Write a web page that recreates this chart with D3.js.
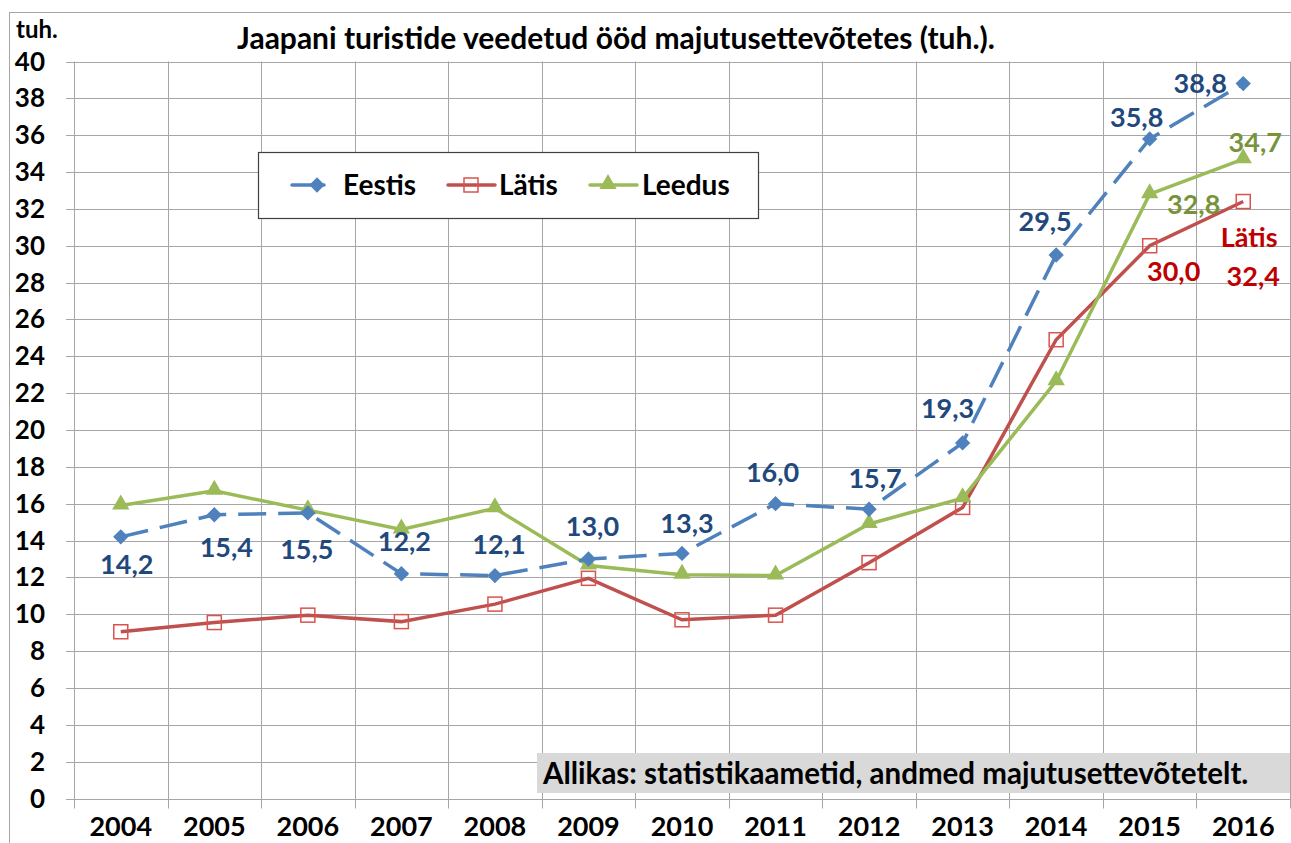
<!DOCTYPE html>
<html>
<head>
<meta charset="utf-8">
<script src="https://cdn.jsdelivr.net/npm/d3@7"></script>
<style>
  body { margin: 0; background: white; }
  svg text { font-family: Lato, "Open Sans", sans-serif; font-weight: bold; }
</style>
</head>
<body>
<div id="chart"></div>
<script>
// andmed
const years = ["2004", "2005", "2006", "2007", "2008", "2009", "2010", "2011", "2012", "2013", "2014", "2015", "2016"];
const eestis = [14.2, 15.4, 15.5, 12.2, 12.1, 13.0, 13.3, 16.0, 15.7, 19.3, 29.5, 35.8, 38.8];
const latis = [9.05, 9.55, 9.95, 9.6, 10.55, 11.95, 9.7, 9.95, 12.8, 15.8, 24.9, 30.0, 32.4];
const leedus = [15.9, 16.7, 15.65, 14.6, 15.75, 12.65, 12.15, 12.1, 14.9, 16.3, 22.65, 32.8, 34.7];
const yTicks = d3.range(0, 41, 2);
const seriesNames = ["Eestis", "Lätis", "Leedus"];

// siltide nihked punktide suhtes
const eestisLabelOffset = [[6, 27], [12, 32], [-1, 36], [3, -33], [4, -32], [4, -33], [5, -30],
  [-3, -32], [6, -31], [-15, -35], [-11, -34], [-13, -22], [-43, -1]];

const W = 1291, H = 843;
const svg = d3.select("#chart").append("svg")
  .attr("width", W)
  .attr("height", H);

// välimine raam
svg.append("rect")
  .attr("x", 9.5).attr("y", 12.5)
  .attr("width", W + 10).attr("height", H + 10)
  .attr("fill", "white")
  .attr("stroke", "#a6a6a6");

const x = d3.scaleBand().domain(years).range([74, 1290]);
const y = d3.scaleLinear().domain([0, 40]).range([798.5, 61.5]);
const cx = d => x(d) + x.bandwidth() / 2;

// horisontaalne võrgustik
svg.append("g")
  .selectAll("line")
  .data(yTicks)
  .enter()
  .append("line")
  .attr("x1", 66).attr("x2", 1290)
  .attr("y1", d => Math.round(y(d)) + 0.5)
  .attr("y2", d => Math.round(y(d)) + 0.5)
  .attr("stroke", "#a6a6a6")
  .attr("stroke-width", 1);

// vertikaalne võrgustik
svg.append("g")
  .selectAll("line")
  .data(years.concat(["end"]))
  .enter()
  .append("line")
  .attr("x1", (d, i) => Math.round(74 + i * x.bandwidth()) + 0.5)
  .attr("x2", (d, i) => Math.round(74 + i * x.bandwidth()) + 0.5)
  .attr("y1", y(40))
  .attr("y2", y(0) + 10)
  .attr("stroke", "#a6a6a6")
  .attr("stroke-width", 1);

// y-telje sildid
svg.append("g")
  .selectAll("text")
  .data(yTicks)
  .enter()
  .append("text")
  .attr("x", 45)
  .attr("y", d => y(d) + 9)
  .attr("text-anchor", "end")
  .attr("font-size", "26px")
  .attr("fill", "black")
  .text(d => d);

// x-telje sildid
svg.append("g")
  .selectAll("text")
  .data(years)
  .enter()
  .append("text")
  .attr("x", d => cx(d))
  .attr("y", 836)
  .attr("text-anchor", "middle")
  .attr("font-size", "27px")
  .attr("fill", "black")
  .text(d => d);

svg.append("text")
  .attr("x", 16).attr("y", 38)
  .attr("font-size", "24px")
  .text("tuh.");

svg.append("text")
  .attr("x", 616).attr("y", 49)
  .attr("text-anchor", "middle")
  .attr("font-size", "30px")
  .text("Jaapani turistide veedetud ööd majutusettevõtetes (tuh.).");

// allika kast
svg.append("rect")
  .attr("x", 537).attr("y", 753)
  .attr("width", 753).attr("height", 40)
  .attr("fill", "#d9d9d9");
svg.append("text")
  .attr("x", 543).attr("y", 784)
  .attr("font-size", "29.5px")
  .text("Allikas: statistikaametid, andmed majutusettevõtetelt.");

const line = d3.line().x((d, i) => cx(years[i])).y(d => y(d));

// markerid
const diamond = d3.symbol().type(d3.symbolDiamond2).size(150);
const triangle = d3.symbol().type(d3.symbolTriangle).size(130);

const drawSquare = (g, px, py) => {
  g.append("rect")
    .attr("x", px - 7).attr("y", py - 7)
    .attr("width", 14).attr("height", 14)
    .attr("fill", "none")
    .attr("stroke", "#d9534f")
    .attr("stroke-width", 1.5);
};

// Lätis
const gL = svg.append("g");
gL.append("path")
  .datum(latis)
  .attr("d", line)
  .attr("fill", "none")
  .attr("stroke", "#c0504d")
  .attr("stroke-width", 3.5);
latis.forEach((v, i) => drawSquare(gL, cx(years[i]), y(v)));

// Leedus
const gLe = svg.append("g");
gLe.append("path")
  .datum(leedus)
  .attr("d", line)
  .attr("fill", "none")
  .attr("stroke", "#9bbb59")
  .attr("stroke-width", 3.5);
gLe.selectAll(".m")
  .data(leedus)
  .enter()
  .append("path")
  .attr("d", triangle)
  .attr("transform", (d, i) => `translate(${cx(years[i])},${y(d) - 1})`)
  .attr("fill", "#9bbb59");

// Eestis
const gE = svg.append("g");
gE.append("path")
  .datum(eestis)
  .attr("d", line)
  .attr("fill", "none")
  .attr("stroke", "#4f81bd")
  .attr("stroke-width", 3.5)
  .attr("stroke-dasharray", "28,12");
gE.selectAll(".m")
  .data(eestis)
  .enter()
  .append("path")
  .attr("d", diamond)
  .attr("transform", (d, i) => `translate(${cx(years[i])},${y(d)})`)
  .attr("fill", "#4f81bd");

// andmesildid
const fmt = v => v.toFixed(1).replace(".", ",");
svg.append("g")
  .selectAll("text")
  .data(eestis)
  .enter()
  .append("text")
  .attr("x", (d, i) => cx(years[i]) + eestisLabelOffset[i][0])
  .attr("y", (d, i) => y(d) + eestisLabelOffset[i][1] + 10)
  .attr("text-anchor", "middle")
  .attr("font-size", "27px")
  .attr("fill", "#1f497d")
  .text(fmt);

const last = years.length - 1;
const addLabel = (txt, px, py, color) => svg.append("text")
  .attr("x", px).attr("y", py + 10)
  .attr("text-anchor", "middle")
  .attr("font-size", "27px")
  .attr("fill", color)
  .text(txt);

addLabel(fmt(leedus[last - 1]), cx(years[last - 1]) + 44, y(leedus[last - 1]) + 10, "#77933c");
addLabel(fmt(leedus[last]), cx(years[last]) + 12, y(leedus[last]) - 17, "#77933c");
addLabel(fmt(latis[last - 1]), cx(years[last - 1]) + 24, y(latis[last - 1]) + 25, "#c00000");
addLabel("Lätis", cx(years[last]) + 6, y(latis[last]) + 35, "#c00000");
addLabel(fmt(latis[last]), cx(years[last]) + 10, y(latis[last]) + 74, "#c00000");

// legend
const lg = svg.append("g");
lg.append("rect")
  .attr("x", 258.5).attr("y", 152.5)
  .attr("width", 500).attr("height", 66)
  .attr("fill", "white")
  .attr("stroke", "#404040")
  .attr("stroke-width", 1.2);

const legendX = [292, 448, 590];
const legendColors = ["#4f81bd", "#c0504d", "#9bbb59"];
const ly = 185;
seriesNames.forEach((name, i) => {
  const lx = legendX[i];
  lg.append("line")
    .attr("x1", lx).attr("x2", lx + (i === 0 ? 32 : 47))
    .attr("y1", ly).attr("y2", ly)
    .attr("stroke", legendColors[i])
    .attr("stroke-width", 3.5)
    .attr("stroke-linecap", "round");
  if (i === 0) {
    lg.append("path").attr("d", diamond).attr("transform", `translate(${lx + 25},${ly})`).attr("fill", legendColors[0]);
  } else if (i === 1) {
    drawSquare(lg, lx + 23, ly);
  } else {
    lg.append("path").attr("d", triangle).attr("transform", `translate(${lx + 18},${ly - 1})`).attr("fill", legendColors[2]);
  }
  lg.append("text")
    .attr("x", lx + (i === 0 ? 51 : i === 1 ? 51 : 52))
    .attr("y", ly + 10)
    .attr("font-size", "28px")
    .attr("fill", "black")
    .text(name);
});
</script>
</body>
</html>
